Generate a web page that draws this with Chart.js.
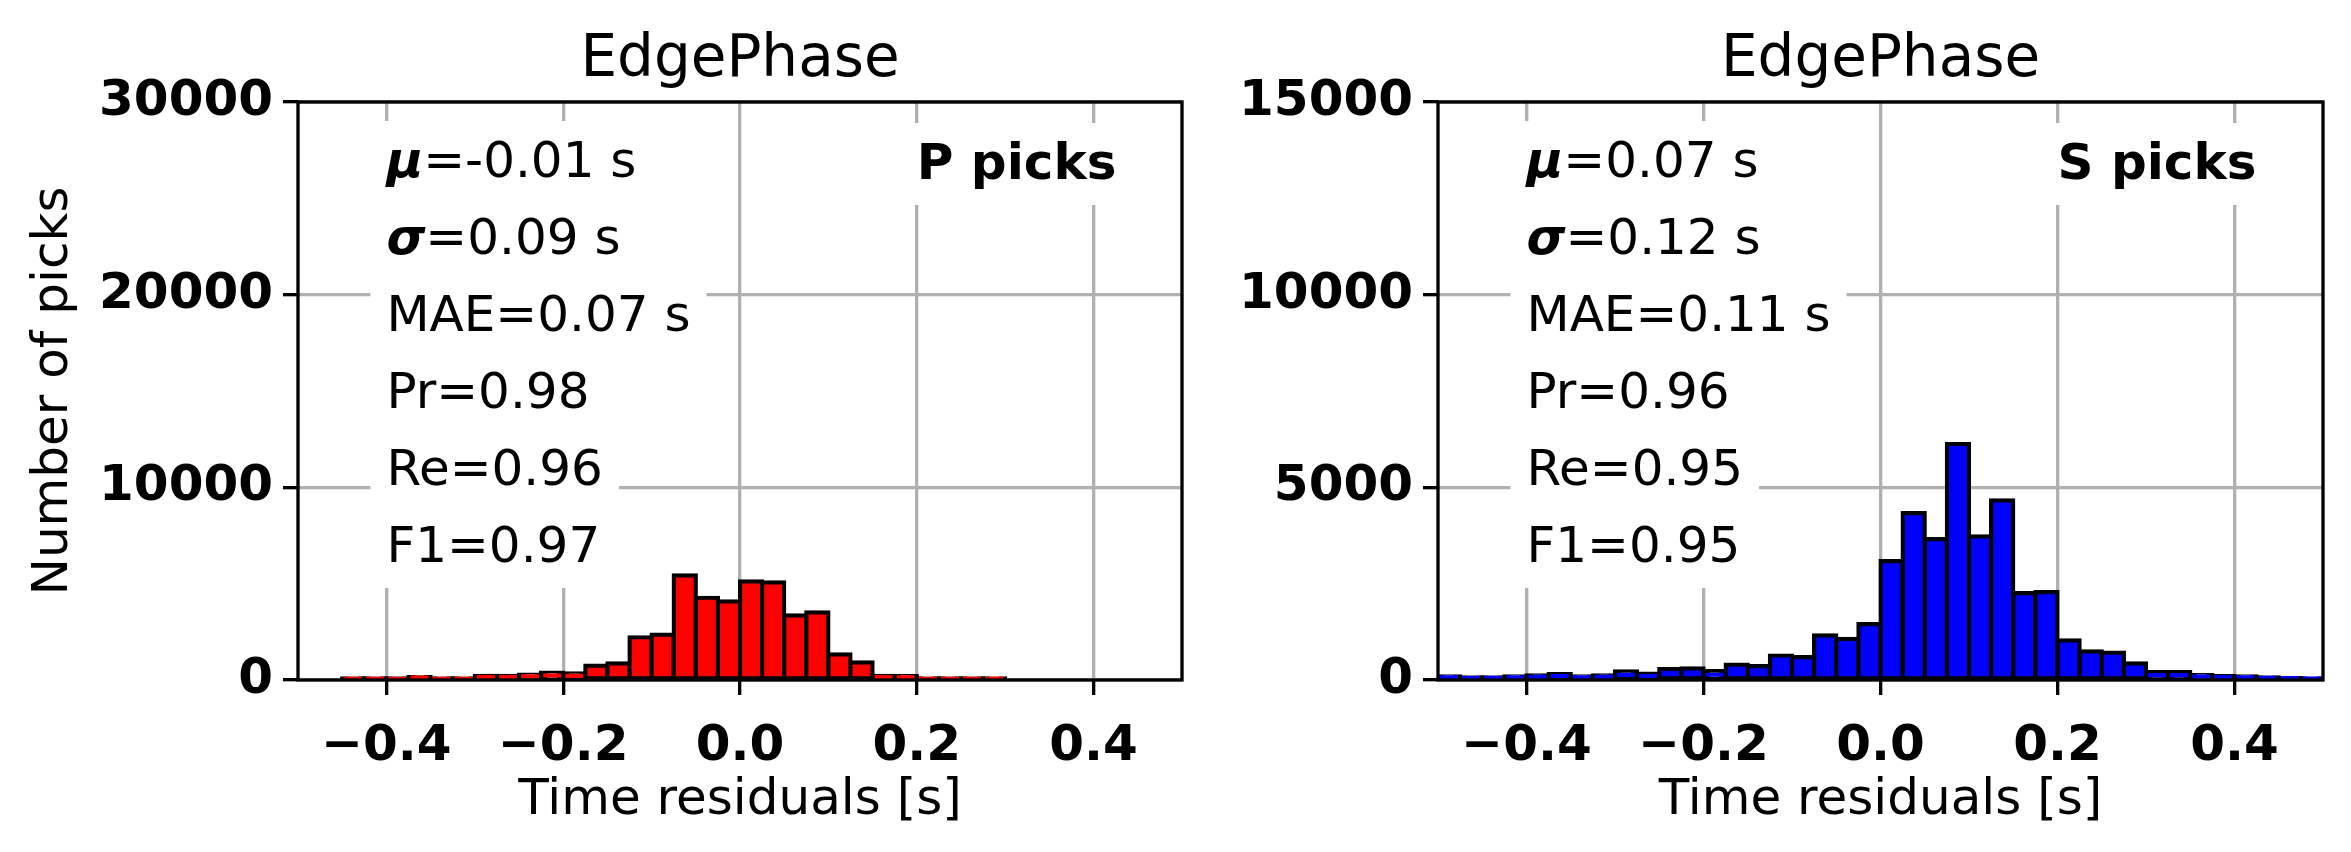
<!DOCTYPE html>
<html>
<head>
<meta charset="utf-8">
<script src="https://cdn.jsdelivr.net/npm/chart.js@4.4.0/dist/chart.umd.min.js"></script>
<style>
  html, body { margin: 0; padding: 0; background: #fff; }
  #wrap { position: relative; width: 2351px; height: 852px; overflow: hidden; background: #fff; }
  canvas { position: absolute; top: 0; }
</style>
</head>
<body>
<div id="wrap">
  <canvas id="graficoP" width="1200" height="852" style="left:0;width:1200px;height:852px"></canvas>
  <canvas id="graficoS" width="1151" height="852" style="left:1200px;width:1151px;height:852px"></canvas>
</div>
<script>
// centros dos bins (largura 0.025 s)
const binCenters = [
  -0.4875, -0.4625, -0.4375, -0.4125, -0.3875, -0.3625, -0.3375, -0.3125, -0.2875, -0.2625,
  -0.2375, -0.2125, -0.1875, -0.1625, -0.1375, -0.1125, -0.0875, -0.0625, -0.0375, -0.0125,
   0.0125,  0.0375,  0.0625,  0.0875,  0.1125,  0.1375,  0.1625,  0.1875,  0.2125,  0.2375,
   0.2625,  0.2875,  0.3125,  0.3375,  0.3625,  0.3875,  0.4125,  0.4375,  0.4625,  0.4875
];
const countsP = [
  0, 0, 50, 50, 40, 150, 70, 70, 210, 210,
  280, 380, 340, 750, 860, 2220, 2350, 5430, 4270, 4080,
  5120, 5070, 3350, 3510, 1330, 910, 220, 200, 70, 70,
  60, 60, 0, 0, 0, 0, 0, 0, 0, 0
];
const countsS = [
  94, 68, 68, 94, 120, 156, 94, 120, 224, 164,
  286, 300, 230, 400, 360, 636, 592, 1156, 1067, 1449,
  3085, 4332, 3657, 6124, 3727, 4662, 2254, 2280, 1030, 743,
  709, 431, 208, 208, 130, 104, 94, 68, 52, 45
];
const xTickValues = [-0.4, -0.2, 0, 0.2, 0.4];
const xTickLabels = ['\u22120.4', '\u22120.2', '0.0', '0.2', '0.4'];
const yTicksP = [0, 10000, 20000, 30000];
const yTicksS = [0, 5000, 10000, 15000];
const statsP = [['\u03bc', '=-0.01 s'], ['\u03c3', '=0.09 s'], ['', 'MAE=0.07 s'], ['', 'Pr=0.98'], ['', 'Re=0.96'], ['', 'F1=0.97']];
const statsS = [['\u03bc', '=0.07 s'], ['\u03c3', '=0.12 s'], ['', 'MAE=0.11 s'], ['', 'Pr=0.96'], ['', 'Re=0.95'], ['', 'F1=0.95']];

const FONTE = '"DejaVu Sans"';
const LW = 3.33;     // molduras, grade e ticks
const LW_BAR = 4.2;  // contorno das barras
Chart.defaults.font.family = FONTE;
Chart.defaults.color = '#000';

// textos, caixas brancas e moldura
const painelPlugin = {
  id: 'painel',
  afterDraw(chart, args, opts) {
    const ctx = chart.ctx;
    const area = chart.chartArea;
    const sx = chart.scales.x;
    const cx = (area.left + area.right) / 2;
    ctx.save();
    ctx.fillStyle = '#000';
    ctx.textBaseline = 'alphabetic';
    ctx.textAlign = 'center';
    ctx.font = '58px ' + FONTE;
    ctx.fillText(opts.titulo, cx, area.top - 26);
    ctx.font = '50px ' + FONTE;
    ctx.fillText('Time residuals [s]', cx, area.bottom + 134);

    if (opts.ylabel) {
      ctx.save();
      ctx.translate(67, (area.top + area.bottom) / 2);
      ctx.rotate(-Math.PI / 2);
      ctx.fillText(opts.ylabel, 0, 0);
      ctx.restore();
    }

    const x0 = sx.getPixelForValue(-0.4);
    const linhas = opts.stats.map((l, k) => {
      ctx.font = 'italic bold 50px ' + FONTE;
      const w1 = l[0] ? ctx.measureText(l[0]).width : 0;
      ctx.font = '50px ' + FONTE;
      const w2 = ctx.measureText(l[1]).width;
      return { l, w1, w2, base: area.top + 75 + 77 * k };
    });
    const xt = sx.getPixelForValue(0.2);
    ctx.font = 'bold 50px ' + FONTE;
    const wt = ctx.measureText(opts.tag).width;

    ctx.fillStyle = '#fff';
    linhas.forEach(o => ctx.fillRect(x0 - 16, o.base - 56, o.w1 + o.w2 + 32, 82));
    ctx.fillRect(xt - 16, area.top + 77 - 56, wt + 32, 82);

    ctx.fillStyle = '#000';
    ctx.textAlign = 'left';
    linhas.forEach(o => {
      if (o.l[0]) {
        ctx.font = 'italic bold 50px ' + FONTE;
        ctx.fillText(o.l[0], x0, o.base);
      }
      ctx.font = '50px ' + FONTE;
      ctx.fillText(o.l[1], x0 + o.w1, o.base);
    });
    ctx.font = 'bold 50px ' + FONTE;
    ctx.fillText(opts.tag, xt, area.top + 77);

    ctx.strokeStyle = '#000';
    ctx.lineWidth = LW;
    ctx.strokeRect(area.left, area.top, area.right - area.left, area.bottom - area.top);
    ctx.restore();
  }
};

function montaGrafico(id, counts, cor, yTicks, opts) {
  const ctx = document.getElementById(id).getContext('2d');
  return new Chart(ctx, {
    type: 'bar',
    data: {
      datasets: [{
        data: counts.map((v, i) => ({ x: binCenters[i], y: v })),
        backgroundColor: cor,
        borderColor: '#000',
        borderWidth: LW_BAR,
        borderSkipped: false,
        inflateAmount: LW_BAR / 2, // contorno centrado na borda, como no matplotlib
        barPercentage: 1,
        categoryPercentage: 1
      }]
    },
    options: {
      responsive: false,
      devicePixelRatio: 1,
      animation: false,
      events: [],
      layout: { padding: { left: 0, right: opts.padRight, top: 102, bottom: 0 } },
      plugins: {
        legend: { display: false },
        tooltip: { enabled: false },
        painel: opts
      },
      scales: {
        x: {
          type: 'linear',
          min: -0.5,
          max: 0.5,
          offset: false,
          z: 1,
          border: { display: false },
          grid: { color: '#b0b0b0', lineWidth: LW, tickColor: '#000', tickWidth: LW, tickLength: 15, offset: false },
          afterBuildTicks: s => { s.ticks = xTickValues.map(v => ({ value: v })); },
          afterFit: s => { s.height = 852 - 680; },
          ticks: {
            autoSkip: false,
            maxRotation: 0,
            padding: 22,
            font: { size: 50, weight: 'bold' },
            callback: (v, i) => xTickLabels[i]
          }
        },
        y: {
          min: yTicks[0],
          max: yTicks[yTicks.length - 1],
          z: 1,
          border: { display: false },
          grid: { color: '#b0b0b0', lineWidth: LW, tickColor: '#000', tickWidth: LW, tickLength: 15 },
          afterBuildTicks: s => { s.ticks = yTicks.map(v => ({ value: v })); },
          afterFit: s => { s.width = opts.yWidth; },
          ticks: {
            padding: 10,
            font: { size: 50, weight: 'bold' },
            callback: v => String(v)
          }
        }
      }
    },
    plugins: [painelPlugin]
  });
}

montaGrafico('graficoP', countsP, '#ff0000', yTicksP, {
  titulo: 'EdgePhase', tag: 'P picks', stats: statsP, ylabel: 'Number of picks', yWidth: 298, padRight: 18
});
montaGrafico('graficoS', countsS, '#0000ff', yTicksS, {
  titulo: 'EdgePhase', tag: 'S picks', stats: statsS, ylabel: '', yWidth: 238, padRight: 28
});
</script>
</body>
</html>
